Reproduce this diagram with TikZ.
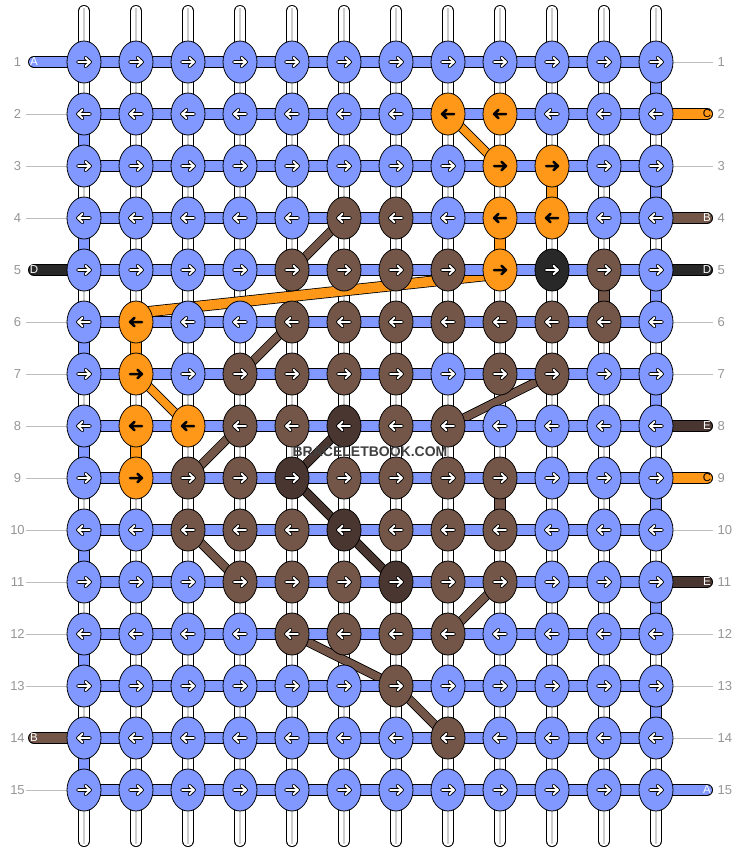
\documentclass[tikz,border=0pt]{standalone}
\usepackage{fontspec}
\setmainfont{Liberation Sans}
\usetikzlibrary{calc,shapes.geometric}
\definecolor{kblue}{RGB}{128,152,255}
\definecolor{korng}{RGB}{255,152,24}
\definecolor{kbrwn}{RGB}{115,86,72}
\definecolor{kdark}{RGB}{74,54,48}
\definecolor{kblck}{RGB}{40,40,40}
\definecolor{numgray}{RGB}{150,150,150}
\definecolor{linegray}{RGB}{190,190,190}
\definecolor{midgray}{RGB}{205,205,205}
\definecolor{wmgray}{RGB}{64,64,64}
\pgfdeclarelayer{vbars}
\pgfdeclarelayer{diags}
\pgfdeclarelayer{hbars}
\pgfdeclarelayer{arrs}
\pgfdeclarelayer{wmark}
\pgfsetlayers{vbars,diags,hbars,main,arrs,wmark}
\newcommand\setknot[2]{\expandafter\gdef\csname kc@#1\endcsname{#2}}
\newcommand\setorng[1]{\setknot{#1}{korng}\expandafter\gdef\csname ko@#1\endcsname{}}
\newcommand\setvbar[2]{\expandafter\gdef\csname vc@#1\endcsname{#2}}
\tikzset{
  knot/.style={ellipse, draw=black, line width=0.8pt, minimum width=34pt, minimum height=42pt, inner sep=0pt},
  bar/.style={draw=black, line width=0.8pt, double=#1, double distance=10.4pt},
  dband/.style={draw=black, line width=0.8pt, double=#1, double distance=7.6pt},
  wband/.style={draw=black, line width=0.8pt, double=#1, double distance=9.6pt},
  midline/.style={draw=midgray, line width=1.6pt},
  warro/.style={draw=black, line width=3.8pt, line cap=round, line join=round},
  warri/.style={draw=white, line width=1.9pt, line cap=round, line join=round},
  darr/.style={draw=black, line width=2.5pt, line cap=round, line join=round},
  numlbl/.style={text=numgray, font=\fontsize{13}{15}\selectfont, inner sep=0pt},
  stublbl/.style={font=\fontsize{11.5}{13}\selectfont, inner sep=0pt},
  guide/.style={draw=linegray, line width=1pt},
  wm/.style={font=\fontsize{14}{16}\selectfont\bfseries, inner sep=0pt}
}
\foreach \k in {2-8,2-9,3-9,3-10,4-9,4-10,5-9,6-2,7-2,8-2,8-3,9-2}{\setorng{\k}}
\foreach \k in {4-6,4-7,5-5,5-6,5-7,5-8,5-11,6-5,6-6,6-7,6-8,6-9,6-10,6-11,7-4,7-5,7-6,7-7,7-9,7-10,8-4,8-5,8-7,8-8,9-3,9-4,9-6,9-7,9-8,9-9,10-3,10-4,10-5,10-7,10-8,10-9,11-4,11-5,11-6,11-8,11-9,12-5,12-6,12-7,12-8,13-7,14-8}{\setknot{\k}{kbrwn}}
\foreach \k in {8-6,9-5,10-6,11-7}{\setknot{\k}{kdark}}
\setknot{5-10}{kblck}
\foreach \k in {3-10,4-9,6-2,8-2}{\setvbar{\k}{korng}}
\foreach \k in {5-11,9-9}{\setvbar{\k}{kbrwn}}
\begin{document}
\begin{tikzpicture}[x=1pt,y=-1pt]
\useasboundingbox (0,0) rectangle (740,852);
\begin{pgfonlayer}{vbars}
\fill[white] (0,0) rectangle (740,852);
\end{pgfonlayer}
% knots
\foreach \r in {1,...,15}{
  \foreach \c in {1,...,12}{
    \ifcsname kc@\r-\c\endcsname\edef\kcol{\csname kc@\r-\c\endcsname}\else\def\kcol{kblue}\fi
    \node[knot, fill=\kcol] (k\r-\c) at ({32+52*\c},{10+52*\r}) {};
  }
}
% arrows
\begin{pgfonlayer}{arrs}
\foreach \r in {1,...,15}{
  \foreach \c in {1,...,12}{
    \ifodd\r\relax\def\ad{1}\else\def\ad{-1}\fi
    \ifcsname ko@\r-\c\endcsname
      \draw[darr, shift={(k\r-\c.center)}, xscale=\ad] (-6,0) -- (6,0) (1.5,-4.2) -- (6,0) -- (1.5,4.2);
    \else
      \draw[warro, shift={(k\r-\c.center)}, xscale=\ad] (-6,0) -- (6,0) (1.5,-4.2) -- (6,0) -- (1.5,4.2);
      \draw[warri, shift={(k\r-\c.center)}, xscale=\ad] (-6,0) -- (6,0) (1.5,-4.2) -- (6,0) -- (1.5,4.2);
    \fi
  }
}
\end{pgfonlayer}
% vertical bars
\begin{pgfonlayer}{vbars}
\foreach \c in {1,...,12}{
  \coordinate (t\c) at ({32+52*\c},11);
  \coordinate (b\c) at ({32+52*\c},841);
  \draw[bar=white, line cap=round] (t\c) -- (k1-\c.center);
  \draw[midline, shorten <=-3pt] (t\c) -- (k1-\c.center);
  \draw[bar=white, line cap=round] (k15-\c.center) -- (b\c);
  \draw[midline, shorten >=-3pt] (k15-\c.center) -- (b\c);
}
\foreach \r in {1,...,14}{
  \foreach \c in {1,...,12}{
    \pgfmathtruncatemacro\nr{\r+1}
    \def\vcol{white}
    \ifnum\c=1 \ifodd\r\relax\else\def\vcol{kblue}\fi\fi
    \ifnum\c=12 \ifodd\r\relax\def\vcol{kblue}\fi\fi
    \ifcsname vc@\r-\c\endcsname\edef\vcol{\csname vc@\r-\c\endcsname}\fi
    \draw[bar=\vcol] (k\r-\c.center) -- (k\nr-\c.center);
    \def\tmpw{white}
    \ifx\vcol\tmpw\draw[midline] (k\r-\c.center) -- (k\nr-\c.center);\fi
  }
}
\end{pgfonlayer}
% diagonal bands
\begin{pgfonlayer}{diags}
\draw[dband=korng] (k2-8.center) -- (k3-9.center);
\draw[dband=korng] (k7-2.center) -- (k8-3.center);
\draw[wband=korng] ($(k5-9.center)+(0,4)$) -- ($(k6-2.center)+(0,-9)$);
\draw[dband=kbrwn] (k4-6.center) -- (k5-5.center);
\draw[dband=kbrwn] (k6-5.center) -- (k7-4.center);
\draw[dband=kbrwn] (k8-4.center) -- (k9-3.center);
\draw[dband=kbrwn] (k7-10.center) -- (k8-8.center);
\draw[dband=kbrwn] (k10-3.center) -- (k11-4.center);
\draw[dband=kbrwn] (k12-8.center) -- (k11-9.center);
\draw[dband=kbrwn] (k12-5.center) -- (k13-7.center);
\draw[dband=kbrwn] (k13-7.center) -- (k14-8.center);
\draw[dband=kdark] (k8-6.center) -- (k9-5.center);
\draw[dband=kdark] (k9-5.center) -- (k10-6.center);
\draw[dband=kdark] (k10-6.center) -- (k11-7.center);
\end{pgfonlayer}
% horizontal bars, side stubs, guides
\begin{pgfonlayer}{hbars}
\foreach \r in {1,...,15}{
  \foreach \c in {1,...,11}{
    \pgfmathtruncatemacro\nc{\c+1}
    \draw[bar=kblue] (k\r-\c.center) -- (k\r-\nc.center);
  }
  \coordinate (L\r) at (34,{10+52*\r});
  \coordinate (R\r) at (707,{10+52*\r});
  \coordinate (gl\r) at (26,{10+52*\r});
  \coordinate (gr\r) at (713,{10+52*\r});
  \node[numlbl] (nl\r) at (17.5,{10+52*\r}) {\r};
  \node[numlbl, anchor=west] (nr\r) at (717.5,{10+52*\r}) {\r};
}
\foreach \r in {2,3,4,6,7,8,9,10,11,12,13,15}{\draw[guide] (gl\r) -- (k\r-1.west);}
\foreach \r in {1,3,6,7,10,12,13,14}{\draw[guide] (k\r-12.east) -- (gr\r);}
\foreach \r/\col/\txt/\tc in {1/kblue/A/white,5/kblck/D/white,14/kbrwn/B/white}{
  \draw[bar=\col, line cap=round] (L\r) -- (k\r-1.center);
  \node[stublbl, text=\tc] (sl\r) at (L\r) {\txt};
}
\foreach \r/\col/\txt/\tc in {2/korng/C/black,4/kbrwn/B/white,5/kblck/D/white,8/kdark/E/white,9/korng/C/black,11/kdark/E/white,15/kblue/A/white}{
  \draw[bar=\col, line cap=round] (k\r-12.center) -- (R\r);
  \node[stublbl, text=\tc] (sr\r) at (R\r) {\txt};
}
\end{pgfonlayer}
% watermark
\begin{pgfonlayer}{wmark}
\node[wm, text=wmgray] (wmt) at (370,451.5) {BRACELETBOOK.COM};
\end{pgfonlayer}
\end{tikzpicture}
\end{document}
